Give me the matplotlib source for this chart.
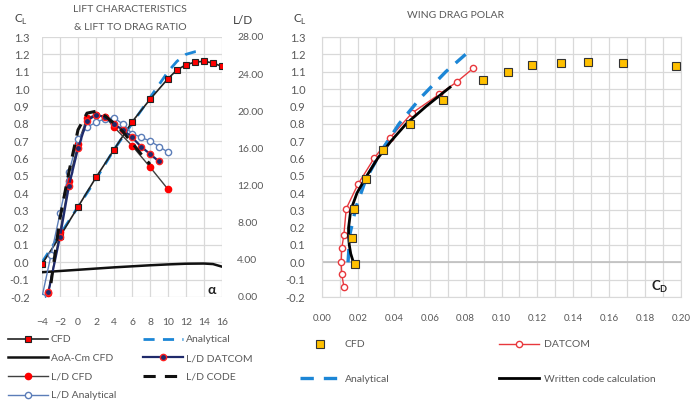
import matplotlib
matplotlib.use("Agg")
import matplotlib.pyplot as plt

plt.rcParams['font.family'] = ['Lato', 'DejaVu Sans']
TXT = '#595959'

# ---------------- Left chart data ----------------
alpha_cfd = [-4, -2, 0, 2, 4, 6, 8, 10, 11, 12, 13, 14, 15, 16]
cl_cfd = [-0.01, 0.15, 0.32, 0.49, 0.65, 0.81, 0.94, 1.06, 1.11, 1.14, 1.155, 1.16, 1.15, 1.13]

alpha_ana = [-4, -2, 0, 2, 4, 6, 8, 10, 11, 12, 13, 14]
cl_ana = [0.0, 0.16, 0.32, 0.48, 0.65, 0.80, 0.95, 1.10, 1.16, 1.20, 1.215, 1.22]

alpha_cm = [-4, -2, 0, 2, 4, 6, 8, 10, 12, 14, 15, 16]
cm_cfd = [-0.057, -0.05, -0.043, -0.036, -0.029, -0.023, -0.017, -0.012, -0.008, -0.007, -0.01, -0.025]

alpha_ld_cfd = [-3.3, -2, -1, 0, 1, 2, 3, 4, 6, 8, 10]
ld_cfd = [0.4, 7.0, 12.5, 16.5, 19.3, 19.6, 19.4, 18.3, 16.3, 14.0, 11.6]

alpha_ld_dat = [-3.3, -2, -1, 0, 1, 2, 3, 4, 5, 6, 7, 8, 9]
ld_dat = [0.5, 6.5, 12.0, 16.0, 19.0, 19.6, 19.4, 18.6, 18.0, 17.2, 16.2, 15.4, 14.6]

alpha_ld_ana = [-4, -3, -2, -1, 0, 1, 2, 3, 4, 5, 6, 7, 8, 9, 10]
ld_ana = [0.0, 4.5, 9.0, 13.5, 17.0, 18.3, 18.8, 19.2, 19.3, 18.6, 17.6, 17.2, 16.8, 16.2, 15.6]

alpha_ld_code = [-3, -2, -1, 0, 1, 2, 3, 4, 5, 6, 7, 8]
ld_code = [1.5, 8.5, 13.5, 18.0, 19.8, 20.0, 19.5, 18.7, 17.8, 16.6, 15.4, 14.3]

alpha_ticks = [-4, -2, 0, 2, 4, 6, 8, 10, 12, 14, 16]

# ---------------- Right chart data ----------------
cd_cfd = [0.0184, 0.0169, 0.0178, 0.0245, 0.0342, 0.049, 0.0672, 0.0895, 0.1034, 0.1172, 0.133, 0.1484, 0.1679, 0.1972]
clp_cfd = [-0.01, 0.14, 0.31, 0.48, 0.65, 0.80, 0.935, 1.05, 1.097, 1.14, 1.15, 1.155, 1.15, 1.13]

cd_dat = [0.0122, 0.0110, 0.0107, 0.0110, 0.0122, 0.0135, 0.020, 0.029, 0.038, 0.050, 0.0654, 0.075, 0.0843]
clp_dat = [-0.14, -0.07, 0.0, 0.08, 0.16, 0.31, 0.45, 0.60, 0.72, 0.86, 0.97, 1.04, 1.12]

cd_ana = [0.0145, 0.0155, 0.019, 0.0245, 0.0335, 0.043, 0.055, 0.069, 0.080]
clp_ana = [0.0, 0.16, 0.32, 0.48, 0.65, 0.80, 0.95, 1.10, 1.20]

cd_code = [0.0175, 0.0160, 0.0152, 0.0148, 0.0148, 0.0160, 0.0195, 0.0250, 0.0310, 0.0385, 0.047, 0.058, 0.0713]
clp_code = [0.0, 0.05, 0.10, 0.15, 0.20, 0.30, 0.40, 0.50, 0.60, 0.70, 0.80, 0.90, 1.01]

cd_ticks = [0.00, 0.02, 0.04, 0.06, 0.08, 0.10, 0.12, 0.14, 0.16, 0.18, 0.20]
cl_ticks = [-0.2, -0.1, 0.0, 0.1, 0.2, 0.3, 0.4, 0.5, 0.6, 0.7, 0.8, 0.9, 1.0, 1.1, 1.2, 1.3]
ld_ticks = [0, 4, 8, 12, 16, 20, 24, 28]

fig = plt.figure(figsize=(6.9, 4.05), dpi=100)
W, H = 690, 405

def axrect(x0, y0, x1, y1):
    return [x0 / W, 1 - y1 / H, (x1 - x0) / W, (y1 - y0) / H]

# ================= LEFT =================
ax = fig.add_axes(axrect(42, 37, 222, 297))
ax.set_xlim(-4, 16)
ax.set_ylim(-0.2, 1.3)
ax.set_xticks(alpha_ticks)
ax.set_yticks(cl_ticks)
ax.set_yticklabels([f"{v:.1f}" for v in cl_ticks])
ax.grid(True, color='#D9D9D9', lw=0.9)
ax.set_axisbelow(True)
for s in ax.spines.values():
    s.set_visible(False)
ax.tick_params(axis='x', length=0, pad=15, labelsize=7.5, colors=TXT)
ax.tick_params(axis='y', length=0, pad=9, labelsize=8, colors=TXT)

blue = '#1C86D6'
h_cfd, = ax.plot(alpha_cfd, cl_cfd, color='#222222', lw=1.2, marker='s', ms=5,
                 mfc='#FF0000', mec='#222222', mew=0.8, label='CFD', zorder=5)
h_ana, = ax.plot(alpha_ana, cl_ana, color=blue, lw=2.0, ls=(0, (4, 3)), label='Analytical', zorder=4)
h_cm, = ax.plot(alpha_cm, cm_cfd, color='#111111', lw=1.8, label='AoA-Cm CFD', zorder=4)

ax2 = ax.twinx()
ax2.set_ylim(0, 28)
ax2.set_yticks(ld_ticks)
ax2.set_yticklabels([f"{v:.2f}" for v in ld_ticks])
for s in ax2.spines.values():
    s.set_visible(False)
ax2.tick_params(axis='y', length=0, pad=11, labelsize=7.5, colors=TXT)

h_ldcfd, = ax2.plot(alpha_ld_cfd, ld_cfd, color='#404040', lw=1.0, marker='o', ms=4.5,
                    mfc='#FF0000', mec='#FF0000', label='L/D CFD', zorder=3)
h_ldana, = ax2.plot(alpha_ld_ana, ld_ana, color='#5B7DB8', lw=1.0, marker='o', ms=4.5,
                    mfc='white', mec='#5B7DB8', mew=1.0, label='L/D Analytical', zorder=3)
h_lddat, = ax2.plot(alpha_ld_dat, ld_dat, color='#1F2A6B', lw=1.6, marker='o', ms=4.5,
                    mfc='#1F2A6B', mec='#FF2020', mew=1.0, label='L/D DATCOM', zorder=4)
h_ldcode, = ax2.plot(alpha_ld_code, ld_code, color='#111111', lw=2.2, ls=(0, (4, 3)),
                     label='L/D CODE', zorder=4)

fig.text(130 / W, 1 - 9 / H, 'LIFT CHARACTERISTICS', ha='center', va='center', fontsize=7.5, color=TXT)
fig.text(130 / W, 1 - 27 / H, '& LIFT TO DRAG RATIO', ha='center', va='center', fontsize=7.5, color=TXT)
fig.text(21 / W, 1 - 20 / H, r'C$_\mathregular{L}$', ha='center', va='center', fontsize=8.5, color='#404040')
fig.text(243 / W, 1 - 20 / H, 'L/D', ha='center', va='center', fontsize=8.5, color='#404040')
fig.text(212 / W, 1 - 290 / H, 'α', ha='center', va='center', fontsize=10, color='#222222', weight='bold')

leg1 = fig.legend([h_cfd, h_cm, h_ldcfd, h_ldana, h_ana, h_lddat, h_ldcode],
                  ['CFD', 'AoA-Cm CFD', 'L/D CFD', 'L/D Analytical', 'Analytical', 'L/D DATCOM', 'L/D CODE'],
                  ncol=2, loc='upper left', bbox_to_anchor=(4 / W, 1 - 331 / H), frameon=False,
                  fontsize=7.5, handlelength=3.8, handletextpad=0.3, columnspacing=2.6,
                  labelspacing=0.9, labelcolor=TXT, borderaxespad=0)

# ================= RIGHT =================
bx = fig.add_axes(axrect(322, 37, 681, 297))
bx.set_xlim(0, 0.2)
bx.set_ylim(-0.2, 1.3)
bx.set_xticks(cd_ticks)
bx.set_xticklabels([f"{v:.2f}" for v in cd_ticks])
bx.set_xticks([i / 100 for i in range(21)], minor=True)
bx.set_yticks(cl_ticks)
bx.set_yticklabels([f"{v:.1f}" for v in cl_ticks])
bx.grid(True, which='both', color='#D9D9D9', lw=0.9)
bx.axhline(0, color='#BFBFBF', lw=1.2, zorder=1)
bx.set_axisbelow(True)
for s in bx.spines.values():
    s.set_color('#D9D9D9')
bx.tick_params(axis='both', which='both', length=0)
bx.tick_params(axis='x', pad=12, labelsize=7, colors=TXT)
bx.tick_params(axis='y', pad=12, labelsize=8, colors=TXT)

g_cfd, = bx.plot(cd_cfd, clp_cfd, ls='none', marker='s', ms=5.5, mfc='#FFC000', mec='#333333',
                 mew=0.8, label='CFD', zorder=6)
g_dat, = bx.plot(cd_dat, clp_dat, color='#E8383D', lw=1.0, marker='o', ms=4.5, mfc='white',
                 mec='#E8383D', mew=1.0, label='DATCOM', zorder=3)
g_ana, = bx.plot(cd_ana, clp_ana, color=blue, lw=2.4, ls=(0, (4, 3)), label='Analytical', zorder=4)
g_code, = bx.plot(cd_code, clp_code, color='#000000', lw=2.0, label='Written code calculation', zorder=5)

fig.text(455 / W, 1 - 16 / H, 'WING DRAG POLAR', ha='center', va='center', fontsize=7.5, color=TXT)
fig.text(300 / W, 1 - 20 / H, r'C$_\mathregular{L}$', ha='center', va='center', fontsize=8.5, color='#404040')
fig.text(660 / W, 1 - 287 / H, r'C$_\mathregular{D}$', ha='center', va='center', fontsize=9.5, color='#222222', weight='bold')

leg2 = fig.legend([g_cfd, g_ana, g_dat, g_code],
                  ['CFD', 'Analytical', 'DATCOM', 'Written code calculation'],
                  ncol=2, loc='upper left', bbox_to_anchor=(296 / W, 1 - 336 / H), frameon=False,
                  fontsize=7.5, handlelength=3.8, handletextpad=0.5, columnspacing=10.5,
                  labelspacing=2.4, labelcolor=TXT, borderaxespad=0)

fig.savefig('out.png', dpi=100)
